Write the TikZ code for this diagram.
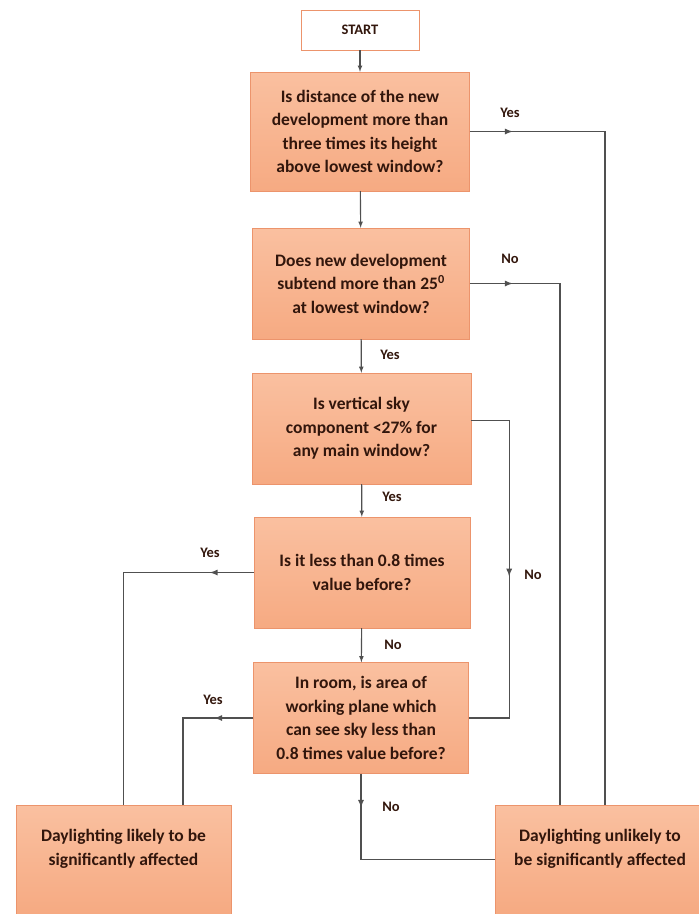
\documentclass[tikz,border=0pt]{standalone}
\usepackage{fontspec}
\setmainfont{Carlito}
\usetikzlibrary{arrows, positioning, decorations.markings}
\definecolor{boxfill}{RGB}{246,170,130}
\definecolor{boxtop}{RGB}{250,192,160}
\definecolor{boxedge}{RGB}{236,148,108}
\definecolor{linegray}{RGB}{80,80,80}
\definecolor{txtbrown}{RGB}{50,22,12}
\tikzset{
  qbox/.style={draw=boxedge, top color=boxtop, bottom color=boxfill, text=txtbrown,
    font=\bfseries\fontsize{17.5}{23.5}\selectfont, align=center, inner sep=0pt},
  lbl/.style={text=txtbrown, font=\bfseries\fontsize{14.5}{16}\selectfont},
  conn/.style={draw=linegray, line width=1.1pt},
  midarrow/.style={postaction={decorate}, decoration={markings,
    mark=at position #1 with {\arrow[linegray, scale=1.3]{latex}}}}
}
\begin{document}
\begin{tikzpicture}[x=1pt, y=-1pt, >=latex]
 				\useasboundingbox (0,0) rectangle (699,914);
				% boxes
				\node[draw=boxedge, fill=white, line width=0.8pt, minimum width=118, minimum height=40, lbl] (start) at (360,30) {START};
				\node[qbox, minimum width=219, minimum height=119] (dist) at (360,131.5) {Is distance of the new\\development more than\\three times its height\\above lowest window?};
				\node[qbox, minimum width=217, minimum height=111] (subt) at (361,283.5) {Does new development\\subtend more than 25$^{\mathbf{0}}$\\at lowest window?};
				\node[qbox, minimum width=219, minimum height=111] (vsc) at (361.5,428.5) {Is vertical sky\\component <27\% for\\any main window?};
				\node[qbox, minimum width=216, minimum height=111] (less) at (362,572.5) {Is it less than 0.8 times\\value before?};
				\node[qbox, minimum width=215, minimum height=111] (room) at (361,718) {In room, is area of\\working plane which\\can see sky less than\\0.8 times value before?};
				\node[qbox, minimum width=215, minimum height=109, text depth=24pt] (likely) at (123.5,859.5) {Daylighting likely to be\\significantly affected};
				\node[qbox, minimum width=210, minimum height=109, text depth=24pt] (unlikely) at (600,859.5) {Daylighting unlikely to\\be significantly affected};
				% straight down
				\draw[conn, ->] (start) -- (dist);
				\draw[conn, ->] (dist) -- (subt);
				\draw[conn, ->] (subt) -- (vsc);
				\draw[conn, ->] (vsc) -- (less);
				\draw[conn, ->] (less) -- (room);
				% side branches
				\draw[conn, midarrow=43pt] (dist.east) -| ([xshift=5pt]unlikely.north);
				\draw[conn, midarrow=43pt] (subt.east) -| ([xshift=-40pt]unlikely.north);
				\draw[conn, midarrow=194pt] ([yshift=8pt]vsc.east) -- ++(38,0) |- (room.east);
				\draw[conn, midarrow=44pt] (less.west) -| (likely.north);
				\draw[conn, midarrow=39pt] (room.west) -| ([xshift=59.5pt]likely.north);
				\draw[conn, midarrow=34pt] (room.south) |- (unlikely.west);
				% labels
				\node[lbl] (y1) at (510,113) {Yes};
				\node[lbl] (n1) at (510,259) {No};
				\node[lbl] (y2) at (390,355) {Yes};
				\node[lbl] (y3) at (392,497) {Yes};
				\node[lbl] (n2) at (533,575) {No};
				\node[lbl] (y4) at (210,553) {Yes};
				\node[lbl] (n3) at (393,645) {No};
				\node[lbl] (y5) at (213,700) {Yes};
				\node[lbl] (n4) at (391,807) {No};
			\end{tikzpicture}
\end{document}
